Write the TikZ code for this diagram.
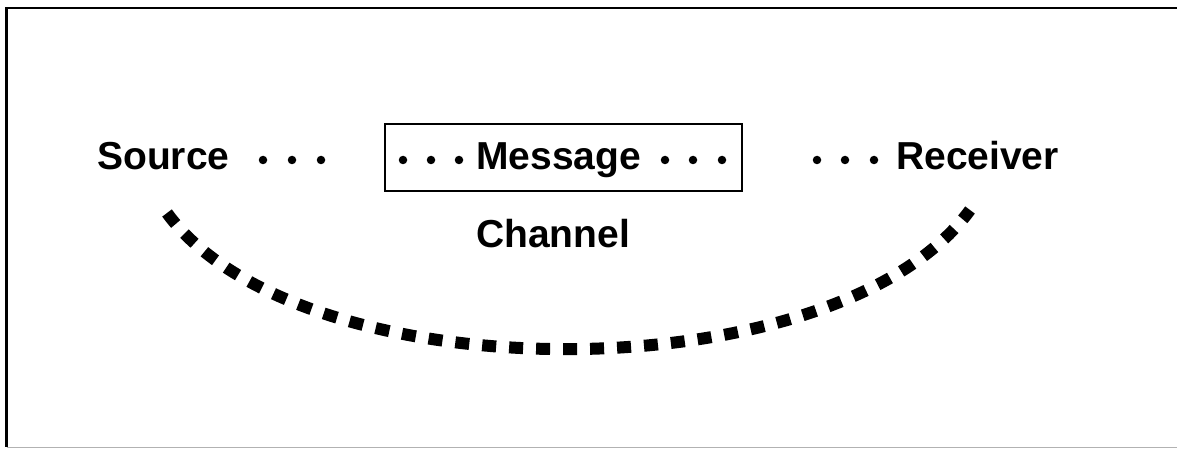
\documentclass[tikz,border=0pt]{standalone}
\usepackage{fontspec}
\setmainfont{Liberation Sans}
\begin{document}
\begin{tikzpicture}[x=1pt,y=-1pt,
  lbl/.style={anchor=base west,inner sep=0pt,font=\fontsize{39}{41}\selectfont\bfseries},
  dotmark/.style={circle,fill=black,inner sep=0pt,minimum size=8.5pt},
  msgbox/.style={draw=black,line width=2.6pt,inner sep=0pt},
  chanarc/.style={line width=12pt,dash pattern=on 14pt off 13pt,line cap=butt}]
\useasboundingbox (0,0) rectangle (1177,449);
% frame
\draw[line width=2.6pt] (1177,8) -- (6.5,8) -- (6.5,447);
\draw[line width=1.5pt,gray!60] (6.5,447.5) -- (1177,447.5);
% labels
\node[lbl] (source) at (97,170) {Source};
\node[lbl] (message) at (476,170) {Message};
\node[lbl] (receiver) at (896,170) {Receiver};
\node[lbl] (channel) at (476,247) {Channel};
% message box
\node[msgbox,minimum width=357pt,minimum height=67pt] (box) at (563.5,157.5) {};
% dots
\foreach \x [count=\i] in {263,292,321} \node[dotmark] (sd\i) at (\x,160) {};
\foreach \x [count=\i] in {403,431,459} \node[dotmark] (ml\i) at (\x,160) {};
\foreach \x [count=\i] in {665,693,722} \node[dotmark] (mr\i) at (\x,160) {};
\foreach \x [count=\i] in {817,845,874} \node[dotmark] (rd\i) at (\x,160) {};
% channel arc
\coordinate (arcL) at (167,213);
\coordinate (arcR) at (970,210);
\draw[chanarc] (arcL) .. controls (300,395) and (835,395) .. (arcR);
\end{tikzpicture}
\end{document}
